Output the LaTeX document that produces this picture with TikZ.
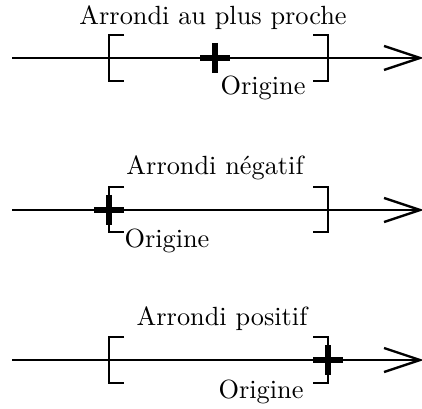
\documentclass[tikz,border=0pt]{standalone}
\begin{document}
\begin{tikzpicture}[x=0.38pt,y=-0.38pt,
  axis/.style={line width=0.9pt},
  brk/.style={line width=0.9pt},
  plusmark/.style={line width=2.3pt},
  lbl/.style={inner sep=0pt}]
\useasboundingbox (0,0) rectangle (422,408);
% ---- panel 1
\coordinate (a1) at (12,58); \coordinate (b1) at (420,58);
\draw[axis] (a1) -- (b1);
\draw[axis] (b1) ++(-36,-12) -- (b1) -- ++(-36,12);
\draw[brk] (124,35) -- (109,35) -- (109,81) -- (124,81);
\draw[brk] (313,35) -- (328,35) -- (328,81) -- (313,81);
\coordinate (p1) at (215,58);
\draw[plusmark] (p1) ++(-15,0) -- ++(30,0) (p1) ++(0,-15) -- ++(0,30);
\node[lbl, anchor=base] (t1) at (213,25) {Arrondi au plus proche};
\node[lbl, anchor=base] (o1) at (263,95) {Origine};
% ---- panel 2
\coordinate (a2) at (12,210); \coordinate (b2) at (420,210);
\draw[axis] (a2) -- (b2);
\draw[axis] (b2) ++(-36,-12) -- (b2) -- ++(-36,12);
\draw[brk] (124,187) -- (109,187) -- (109,232) -- (124,232);
\draw[brk] (313,187) -- (328,187) -- (328,232) -- (313,232);
\coordinate (p2) at (109,210);
\draw[plusmark] (p2) ++(-15,0) -- ++(30,0) (p2) ++(0,-15) -- ++(0,30);
\node[lbl, anchor=base] (t2) at (215,175) {Arrondi n\'egatif};
\node[lbl, anchor=base west] (o2) at (124,247) {Origine};
% ---- panel 3
\coordinate (a3) at (12,360); \coordinate (b3) at (420,360);
\draw[axis] (a3) -- (b3);
\draw[axis] (b3) ++(-36,-12) -- (b3) -- ++(-36,12);
\draw[brk] (124,337) -- (109,337) -- (109,383) -- (124,383);
\draw[brk] (313,337) -- (328,337) -- (328,383) -- (313,383);
\coordinate (p3) at (328,360);
\draw[plusmark] (p3) ++(-15,0) -- ++(30,0) (p3) ++(0,-15) -- ++(0,30);
\node[lbl, anchor=base] (t3) at (222,325) {Arrondi positif};
\node[lbl, anchor=base] (o3) at (261,398) {Origine};
\end{tikzpicture}
\end{document}
